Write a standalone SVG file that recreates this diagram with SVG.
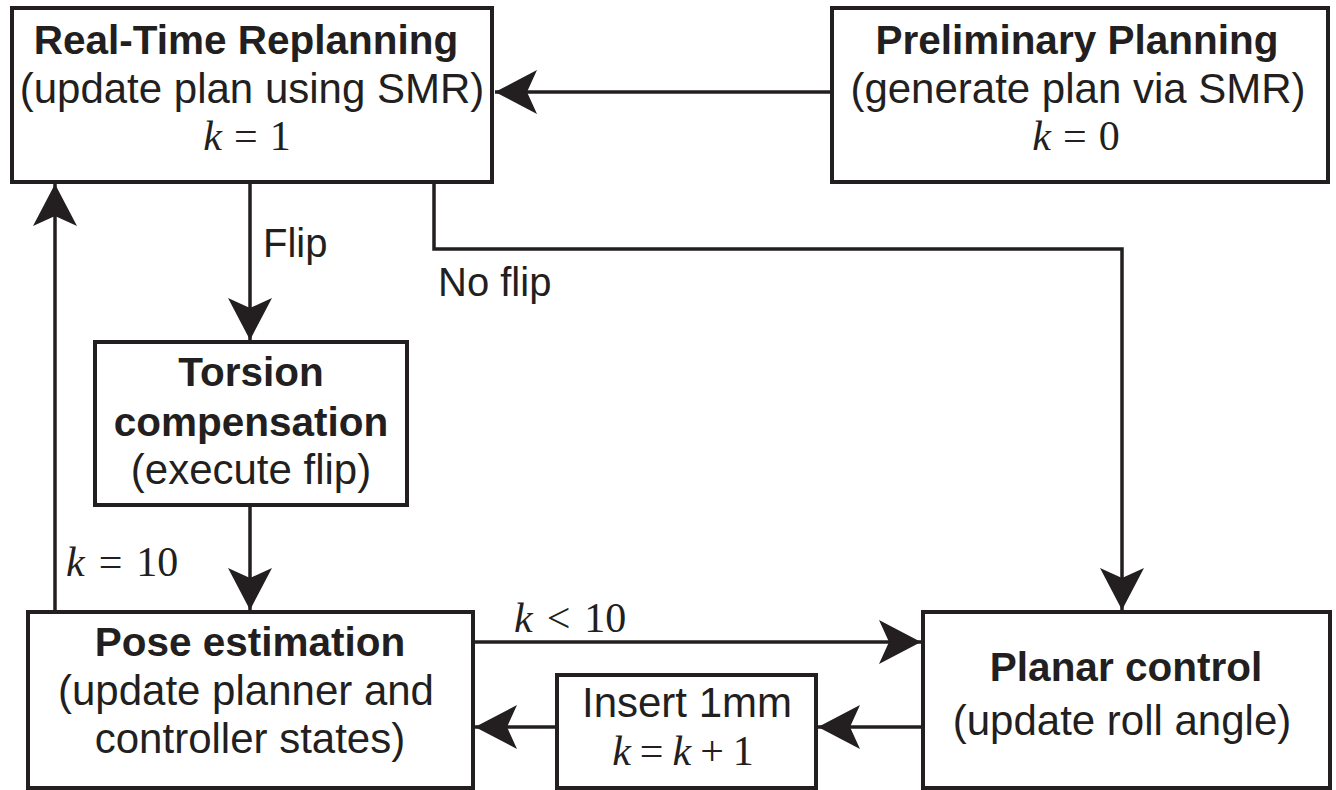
<svg xmlns="http://www.w3.org/2000/svg" width="1336" height="790" viewBox="0 0 1336 790">
<style>
.box{fill:#fff;stroke:#231f20;stroke-width:4}
.ln{fill:none;stroke:#231f20;stroke-width:3.5}
.t{font-family:"Liberation Sans",Arial,sans-serif;font-size:42px;fill:#231f20;text-anchor:middle}
.b{font-weight:bold;font-size:40.5px}
.m{font-family:"Liberation Serif","Times New Roman",serif;font-size:42px;fill:#231f20;white-space:pre}
.i{font-style:italic}
.l{text-anchor:start}
.s{font-size:40px}
</style>
<defs>
<marker id="ah" viewBox="0 0 42 44" refX="42" refY="22" markerWidth="42" markerHeight="44" markerUnits="userSpaceOnUse" orient="auto">
<path d="M42,22 L0,0 L10,22 L0,44 Z" fill="#231f20"/>
</marker>
</defs>
<rect width="1336" height="790" fill="#fff"/>
<g id="connectors">
<path class="ln" d="M832,92 H495" marker-end="url(#ah)"/>
<path class="ln" d="M250,182 V340" marker-end="url(#ah)"/>
<path class="ln" d="M434,182 V249 H1122 V610" marker-end="url(#ah)"/>
<path class="ln" d="M250,505 V610" marker-end="url(#ah)"/>
<path class="ln" d="M55,612 V184" marker-end="url(#ah)"/>
<path class="ln" d="M473,642 H921" marker-end="url(#ah)"/>
<path class="ln" d="M923,727 H818" marker-end="url(#ah)"/>
<path class="ln" d="M557,727 H475" marker-end="url(#ah)"/>
<text class="t l s" x="263" y="257">Flip</text>
<text class="t l s" x="438" y="296">No flip</text>
<text class="m l" x="66" y="576"><tspan class="i">k</tspan><tspan dx="14">=</tspan><tspan dx="14">10</tspan></text>
<text class="m l" x="514" y="632"><tspan class="i">k</tspan><tspan dx="14">&lt;</tspan><tspan dx="14">10</tspan></text>
</g>
<g id="realtime">
<rect class="box" x="12" y="8" width="480" height="174"/>
<text class="t b" x="246" y="54">Real-Time Replanning</text>
<text class="t" x="252" y="103">(update plan using SMR)</text>
<text class="m" x="247" y="150" text-anchor="middle"><tspan class="i">k</tspan><tspan dx="12">=</tspan><tspan dx="12">1</tspan></text>
</g>
<g id="preliminary">
<rect class="box" x="832" y="8" width="496" height="174"/>
<text class="t b" x="1077" y="54">Preliminary Planning</text>
<text class="t" x="1078" y="103">(generate plan via SMR)</text>
<text class="m" x="1076" y="150" text-anchor="middle"><tspan class="i">k</tspan><tspan dx="12">=</tspan><tspan dx="12">0</tspan></text>
</g>
<g id="torsion">
<rect class="box" x="95" y="342" width="312" height="163"/>
<text class="t b" x="251" y="386">Torsion</text>
<text class="t b" x="251" y="436">compensation</text>
<text class="t" x="251" y="484">(execute flip)</text>
</g>
<g id="pose">
<rect class="box" x="28" y="612" width="445" height="176"/>
<text class="t b" x="250" y="656">Pose estimation</text>
<text class="t" x="246" y="705">(update planner and</text>
<text class="t" x="250" y="753">controller states)</text>
</g>
<g id="insert">
<rect class="box" x="557" y="675" width="259" height="113"/>
<text class="t" x="687" y="717">Insert 1mm</text>
<text class="m" x="683" y="765" text-anchor="middle"><tspan class="i">k</tspan><tspan dx="9">=</tspan><tspan dx="9" class="i">k</tspan><tspan dx="9">+</tspan><tspan dx="9">1</tspan></text>
</g>
<g id="planar">
<rect class="box" x="923" y="612" width="407" height="176"/>
<text class="t b" x="1126" y="681">Planar control</text>
<text class="t" x="1122" y="735">(update roll angle)</text>
</g>
</svg>
